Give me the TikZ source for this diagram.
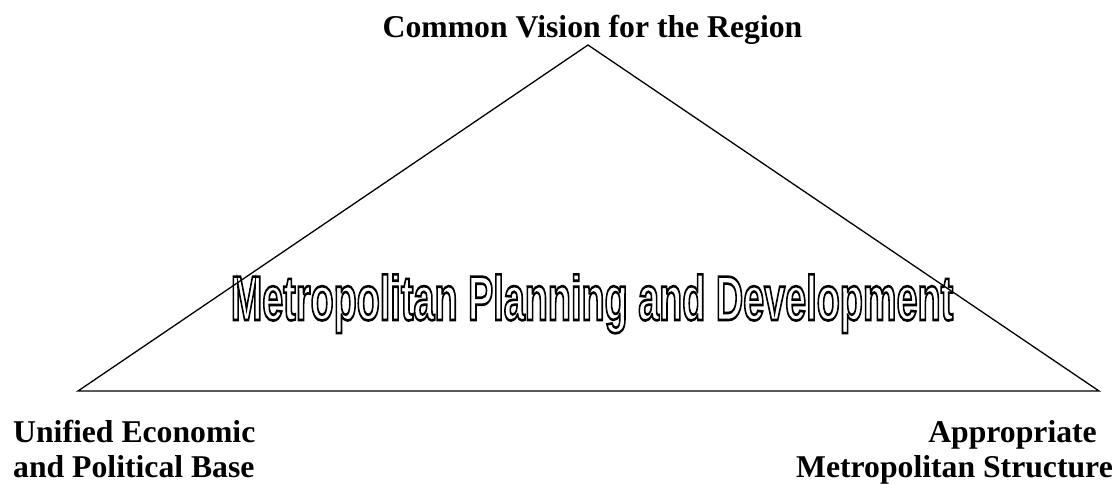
\documentclass[tikz,border=0pt]{standalone}
\usepackage{fontspec}
\setmainfont{Liberation Serif}
\newfontfamily\outlinesans{Liberation Sans}
\newcommand\strokedtext[1]{\special{pdf:literal direct 1 Tr 2.6 w}#1\special{pdf:literal direct 0 Tr}}

\tikzset{
	cornertext/.style={font=\bfseries\fontsize{31.7}{35}\selectfont, inner sep=0pt},
	bigtitle/.style={font=\outlinesans\bfseries\fontsize{63}{63}\selectfont, inner sep=0pt}
}

\begin{document}
\begin{tikzpicture}[x=1pt,y=-1pt]
	\useasboundingbox (0,0) rectangle (1120,483);
	%triangle
	\coordinate (apex)   at (588,45);
	\coordinate (leftv)  at (78,391);
	\coordinate (rightv) at (1099,391);
	\draw[line width=1.3pt] (apex)--(leftv)--(rightv)--cycle;	%apex -- left -- right
	%corner texts
	\node[cornertext, anchor=base] (vision) at (592.5,37) {Common Vision for the Region};
	\node[cornertext, anchor=north west, align=left] (econbase) at (13,420.4) {Unified Economic\\and Political Base};
	\node[cornertext, anchor=north east, align=right] (structure) at (1113,420.6) {Appropriate\hspace*{16pt}\\Metropolitan Structure};
	%middle
	\node[bigtitle, anchor=base] (planning) at (592,320)
		{\scalebox{0.6}[1]{\strokedtext{Metropolitan Planning and Development}}};
\end{tikzpicture}
\end{document}
